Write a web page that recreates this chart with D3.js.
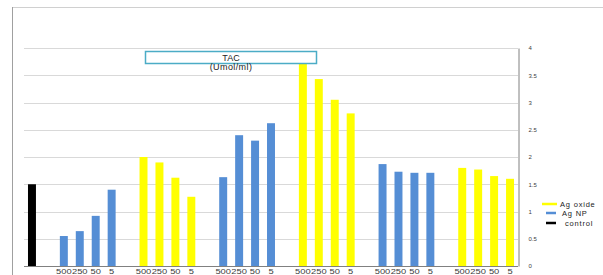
<!DOCTYPE html>
<html>
<head>
<meta charset="utf-8">
<script src="https://cdn.jsdelivr.net/npm/d3@7"></script>
<style>
  body { margin: 0; background: #fff; }
  svg { display: block; font-family: "Liberation Sans", Arial, sans-serif; }
</style>
</head>
<body>
<script>
// slots along the x axis (31 of them, some empty)
let slots = d3.range(31);
let doses = ['500', '250', '50', '5'];

// bars: slot index, series, value
let controlBars = [{slot: 0, v: 1.5}];
let npBars = [
  {slot: 2, v: 0.55}, {slot: 3, v: 0.64}, {slot: 4, v: 0.92}, {slot: 5, v: 1.4},
  {slot: 12, v: 1.63}, {slot: 13, v: 2.4}, {slot: 14, v: 2.3}, {slot: 15, v: 2.62},
  {slot: 22, v: 1.87}, {slot: 23, v: 1.73}, {slot: 24, v: 1.71}, {slot: 25, v: 1.71}
];
let oxideBars = [
  {slot: 7, v: 2.0}, {slot: 8, v: 1.9}, {slot: 9, v: 1.62}, {slot: 10, v: 1.27},
  {slot: 17, v: 3.75}, {slot: 18, v: 3.43}, {slot: 19, v: 3.05}, {slot: 20, v: 2.8},
  {slot: 27, v: 1.8}, {slot: 28, v: 1.77}, {slot: 29, v: 1.65}, {slot: 30, v: 1.6}
];
let labelSlots = [2, 3, 4, 5, 7, 8, 9, 10, 12, 13, 14, 15, 17, 18, 19, 20, 22, 23, 24, 25, 27, 28, 29, 30];
let yTicks = [0, 0.5, 1, 1.5, 2, 2.5, 3, 3.5, 4];

let width = 603, height = 275;
let colors = {oxide: '#ffff00', np: '#558ed5', control: '#000000'};

let svg = d3.select('body').append('svg')
  .attr('width', width)
  .attr('height', height);

// outer frame
svg.append('line').attr('x1', 12.5).attr('x2', width).attr('y1', 7.5).attr('y2', 7.5)
  .attr('stroke', '#d0d0d0');
svg.append('line').attr('x1', 12.5).attr('x2', 12.5).attr('y1', 7).attr('y2', height)
  .attr('stroke', '#a0a0a0');

let x = d3.scaleBand().domain(slots).range([24, 518]).paddingInner(0.5).paddingOuter(0.25);
let y = d3.scaleLinear().domain([0, 4]).range([266, 48]);

// gridlines
svg.append('g').selectAll('line')
  .data(yTicks.slice(1))
  .enter().append('line')
  .attr('x1', 24).attr('x2', 518)
  .attr('y1', d => Math.round(y(d)) + 0.5)
  .attr('y2', d => Math.round(y(d)) + 0.5)
  .attr('stroke', '#d9d9d9');

function drawBars(data, color) {
  svg.append('g').selectAll('rect')
    .data(data)
    .enter().append('rect')
    .attr('x', d => x(d.slot))
    .attr('width', x.bandwidth())
    .attr('y', d => y(d.v))
    .attr('height', d => y(0) - y(d.v))
    .attr('fill', color);
}
drawBars(controlBars, colors.control);
drawBars(npBars, colors.np);
drawBars(oxideBars, colors.oxide);

// baseline
svg.append('line').attr('x1', 24).attr('x2', 518)
  .attr('y1', 266.5).attr('y2', 266.5).attr('stroke', '#808080');

// right axis
let yAxis = d3.axisRight(y).tickValues(yTicks).tickSize(0).tickPadding(10)
  .tickFormat(d => String(d));
let ay = svg.append('g').attr('transform', 'translate(518.5,0)').call(yAxis);
ay.select('.domain').attr('stroke', '#808080');
ay.selectAll('text').attr('font-size', 6).attr('fill', '#404040');

// x labels
svg.append('g').selectAll('text')
  .data(labelSlots)
  .enter().append('text')
  .attr('x', d => x(d) + x.bandwidth() / 2)
  .attr('y', 274)
  .attr('text-anchor', 'middle')
  .attr('font-size', 7)
  .attr('fill', '#404040')
  .attr('textLength', (d, i) => doses[i % 4].length * 5.2)
  .attr('lengthAdjust', 'spacingAndGlyphs')
  .text((d, i) => doses[i % 4]);

// title box
svg.append('rect').attr('x', 145.5).attr('y', 51.5).attr('width', 171).attr('height', 12)
  .attr('fill', '#fff').attr('stroke', '#4bacc6').attr('stroke-width', 1.5);
svg.append('text').attr('x', 231).attr('y', 61).attr('text-anchor', 'middle')
  .attr('font-size', 9).attr('fill', '#222').text('TAC');
svg.append('text').attr('x', 231).attr('y', 70).attr('text-anchor', 'middle')
  .attr('font-size', 9).attr('fill', '#222').attr('letter-spacing', 0.4).text('(Umol/ml)');

// legend
let legend = [
  {name: 'Ag  oxide', color: colors.oxide, x1: 542, x2: 557, tx: 560, y: 204},
  {name: 'Ag NP', color: colors.np, x1: 546, x2: 556, tx: 562, y: 213},
  {name: 'control', color: colors.control, x1: 546, x2: 556, tx: 565, y: 223}
];
let lg = svg.append('g').selectAll('g').data(legend).enter().append('g');
lg.append('line')
  .attr('x1', d => d.x1).attr('x2', d => d.x2)
  .attr('y1', d => d.y).attr('y2', d => d.y)
  .attr('stroke', d => d.color).attr('stroke-width', 2.5);
lg.append('text')
  .attr('x', d => d.tx).attr('y', d => d.y + 2.5)
  .attr('font-size', 7.5).attr('fill', '#222')
  .attr('letter-spacing', 0.8)
  .text(d => d.name);
</script>
</body>
</html>
